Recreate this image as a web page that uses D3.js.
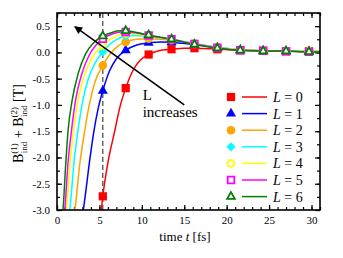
<!DOCTYPE html>
<meta charset="utf-8">
<html>
<head>
  <style>
    body { margin: 0; background: #fff; }
    svg { display: block; }
    text { font-family: "Liberation Serif", "DejaVu Serif", serif; }
    .axis path { display: none; }
    .axis line { stroke: #000; stroke-width: 1.2; }
    .axis text { font-size: 11px; fill: #000; }
  </style>
</head>
<body>
<svg width="343" height="258"></svg>
<script src="https://d3js.org/d3.v7.min.js"></script>
<script>
  // sample times of the markers (fs)
  const markerTimes = [5.4, 8.1, 10.8, 13.5, 16.2, 18.9, 21.6, 24.3, 27.0, 29.7];

  const labels = ["0", "1", "2", "3", "4", "5", "6"];
  const colors = ["#ff0000", "#0000ff", "#ffa500", "#00ffff", "#ffff00", "#ff00ff", "#008000"];

  // marker values per L
  const markersL0 = [-2.74, -0.68, -0.04, 0.06, 0.08, 0.06, 0.04, 0.03, 0.02, 0.02];
  const markersL1 = [-0.73, 0.04, 0.18, 0.19, 0.15, 0.09, 0.05, 0.03, 0.02, 0.02];
  const markersL2 = [-0.25, 0.20, 0.26, 0.23, 0.17, 0.10, 0.05, 0.03, 0.02, 0.02];
  const markersL3 = [0.01, 0.31, 0.30, 0.25, 0.17, 0.10, 0.05, 0.03, 0.02, 0.02];
  const markersL4 = [0.13, 0.36, 0.31, 0.25, 0.16, 0.09, 0.05, 0.03, 0.02, 0.02];
  const markersL5 = [0.26, 0.39, 0.32, 0.25, 0.16, 0.09, 0.04, 0.03, 0.02, 0.01];
  const markersL6 = [0.31, 0.41, 0.33, 0.25, 0.15, 0.08, 0.04, 0.025, 0.025, 0.01];

  // curves [t, value]
  const lineL0 = [[5.15,-3.1],[5.4,-2.74],[6.0,-2.1],[6.8,-1.5],[7.4,-1.05],[8.1,-0.68],[9.0,-0.33],[9.8,-0.15],[10.8,-0.04],[12.0,0.03],[13.5,0.06],[15,0.08],[16.2,0.08],[18.9,0.06],[21.6,0.04],[24.3,0.03],[27,0.02],[29.7,0.02],[31,0.02]];
  const lineL1 = [[3.0,-3.1],[3.1,-3.0],[3.9,-2.0],[4.35,-1.5],[4.85,-1.07],[5.4,-0.73],[6.2,-0.35],[7.0,-0.12],[8.1,0.04],[9.4,0.14],[10.8,0.18],[12.2,0.2],[13.5,0.19],[16.2,0.15],[18.9,0.09],[21.6,0.05],[24.3,0.03],[27,0.02],[29.7,0.02],[31,0.02]];
  const lineL2 = [[2.0,-3.1],[2.1,-3.0],[2.7,-2.1],[3.26,-1.5],[3.8,-1.0],[4.5,-0.55],[5.4,-0.25],[6.3,-0.02],[7.2,0.12],[8.1,0.2],[9.4,0.25],[10.8,0.26],[12.2,0.25],[13.5,0.23],[16.2,0.17],[18.9,0.1],[21.6,0.05],[24.3,0.03],[27,0.02],[29.7,0.02],[31,0.02]];
  const lineL3 = [[1.4,-3.1],[1.5,-3.0],[2.0,-2.1],[2.46,-1.5],[3.0,-0.95],[3.7,-0.5],[4.5,-0.2],[5.4,0.01],[6.5,0.19],[7.3,0.27],[8.1,0.31],[9.4,0.32],[10.8,0.3],[13.5,0.25],[16.2,0.17],[18.9,0.1],[21.6,0.05],[24.3,0.03],[27,0.02],[29.7,0.02],[31,0.02]];
  const lineL4 = [[1.0,-3.1],[1.1,-3.0],[1.55,-2.1],[1.95,-1.5],[2.5,-0.9],[3.2,-0.45],[4.2,-0.08],[5.4,0.13],[6.5,0.27],[7.5,0.34],[8.1,0.36],[9.4,0.35],[10.8,0.31],[13.5,0.25],[16.2,0.16],[18.9,0.09],[21.6,0.05],[24.3,0.03],[27,0.02],[29.7,0.02],[31,0.02]];
  const lineL5 = [[0.8,-3.1],[0.9,-3.0],[1.3,-2.1],[1.7,-1.5],[2.2,-0.9],[2.9,-0.42],[3.8,-0.05],[4.6,0.14],[5.4,0.26],[6.5,0.35],[7.5,0.39],[8.1,0.39],[9.4,0.37],[10.8,0.32],[13.5,0.25],[16.2,0.16],[18.9,0.09],[21.6,0.04],[24.3,0.03],[27,0.02],[29.7,0.01],[31,0.01]];
  const lineL6 = [[0.6,-3.1],[0.7,-3.0],[1.0,-2.2],[1.3,-1.5],[1.8,-0.9],[2.5,-0.4],[3.4,-0.02],[4.3,0.18],[5.4,0.31],[6.5,0.38],[7.3,0.41],[8.1,0.41],[9.4,0.38],[10.8,0.33],[13.5,0.25],[16.2,0.15],[18.9,0.08],[21.6,0.04],[24.3,0.025],[27,0.025],[29.7,0.01],[31,0.01]];

  const markerSets = [markersL0, markersL1, markersL2, markersL3, markersL4, markersL5, markersL6];
  const lineSets = [lineL0, lineL1, lineL2, lineL3, lineL4, lineL5, lineL6];
  const symbols = [d3.symbolSquare, d3.symbolTriangle, d3.symbolCircle, d3.symbolSquare, d3.symbolCircle, d3.symbolSquare, d3.symbolTriangle];
  const symSizes = [68, 44, 58, 42, 36, 44, 26];
  const symRotate = [0, 0, 0, 45, 0, 0, 0];
  const openMarker = [false, false, false, false, true, true, true];

  const dashTime = 5.4;
  const arrowFrom = [15.0, -1.0], arrowTo = [2.1, 0.49];

  const svg = d3.select("svg");
  const mLeft = 57, mRight = 320, mTop = 13, mBottom = 210;
  const x = d3.scaleLinear().domain([0, 31]).range([mLeft, mRight]);
  const y = d3.scaleLinear().domain([-3, 0.75]).range([mBottom, mTop]);

  svg.append("clipPath").attr("id", "clip")
    .append("rect").attr("x", mLeft).attr("y", mTop)
    .attr("width", mRight - mLeft).attr("height", mBottom - mTop);

  // axes: major + minor ticks inward on all four sides
  const fmt = d => d3.format(".1f")(d).replace("−", "-");
  const xMajor = d3.range(0, 31, 5), xMinor = d3.range(0, 32, 1);
  const yMajor = d3.range(-3, 0.76, 0.5), yMinor = d3.range(-3, 0.76, 0.25);

  svg.append("g").attr("class", "axis").attr("transform", `translate(0,${mBottom})`)
    .call(d3.axisBottom(x).tickValues(xMinor).tickSize(-3).tickFormat(""));
  svg.append("g").attr("class", "axis").attr("transform", `translate(0,${mBottom})`)
    .call(d3.axisBottom(x).tickValues(xMajor).tickSize(-5).tickPadding(6).tickFormat(d3.format("d")));
  svg.append("g").attr("class", "axis").attr("transform", `translate(0,${mTop})`)
    .call(d3.axisTop(x).tickValues(xMinor).tickSize(-3).tickFormat(""));
  svg.append("g").attr("class", "axis").attr("transform", `translate(0,${mTop})`)
    .call(d3.axisTop(x).tickValues(xMajor).tickSize(-5).tickFormat(""));

  svg.append("g").attr("class", "axis").attr("transform", `translate(${mLeft},0)`)
    .call(d3.axisLeft(y).tickValues(yMinor).tickSize(-3).tickFormat(""));
  svg.append("g").attr("class", "axis").attr("transform", `translate(${mLeft},0)`)
    .call(d3.axisLeft(y).tickValues(yMajor).tickSize(-5).tickPadding(7).tickFormat(fmt));
  svg.append("g").attr("class", "axis").attr("transform", `translate(${mRight},0)`)
    .call(d3.axisRight(y).tickValues(yMinor).tickSize(-3).tickFormat(""));
  svg.append("g").attr("class", "axis").attr("transform", `translate(${mRight},0)`)
    .call(d3.axisRight(y).tickValues(yMajor).tickSize(-5).tickFormat(""));

  // dashed line
  svg.append("line")
    .attr("x1", x(dashTime)).attr("x2", x(dashTime))
    .attr("y1", mTop).attr("y2", mBottom)
    .attr("stroke", "#333").attr("stroke-width", 1.1)
    .attr("stroke-dasharray", "5,3");

  const plot = svg.append("g").attr("clip-path", "url(#clip)");
  const line = d3.line().x(d => x(d[0])).y(d => y(d[1])).curve(d3.curveMonotoneX);

  lineSets.forEach((pts, i) => {
    plot.append("path").attr("d", line(pts))
      .attr("fill", "none").attr("stroke", colors[i]).attr("stroke-width", 1.5);
  });

  function drawMarker(g, i, px, py) {
    g.append("path")
      .attr("d", d3.symbol().type(symbols[i]).size(symSizes[i])())
      .attr("transform", `translate(${px},${py}) rotate(${symRotate[i]})`)
      .attr("fill", openMarker[i] ? "#fff" : colors[i])
      .attr("stroke", colors[i])
      .attr("stroke-width", openMarker[i] ? 1.8 : 0);
  }

  markerSets.forEach((vals, i) => {
    vals.forEach((v, k) => drawMarker(plot, i, x(markerTimes[k]), y(v)));
  });

  // arrow annotation
  const defs = svg.append("defs");
  defs.append("marker").attr("id", "head")
    .attr("viewBox", "0 0 10 10").attr("refX", 9).attr("refY", 5)
    .attr("markerWidth", 10).attr("markerHeight", 8)
    .attr("markerUnits", "userSpaceOnUse").attr("orient", "auto")
    .append("path").attr("d", "M0,0L10,5L0,10z").attr("fill", "#000");

  svg.append("line")
    .attr("x1", x(arrowFrom[0])).attr("y1", y(arrowFrom[1]))
    .attr("x2", x(arrowTo[0])).attr("y2", y(arrowTo[1]))
    .attr("stroke", "#000").attr("stroke-width", 1.6)
    .attr("marker-end", "url(#head)");

  svg.append("text").attr("x", x(10.1)).attr("y", y(-0.9))
    .attr("font-size", 15).text("L");
  svg.append("text").attr("x", x(10.1)).attr("y", y(-1.23))
    .attr("font-size", 15).text("increases");

  // legend
  const legend = svg.append("g");
  labels.forEach((lab, i) => {
    const ly = 97 + i * 16.6;
    drawMarker(legend, i, 231, ly);
    legend.append("line").attr("x1", 242).attr("x2", 267)
      .attr("y1", ly).attr("y2", ly)
      .attr("stroke", colors[i]).attr("stroke-width", 1.5);
    const t = legend.append("text").attr("x", 273).attr("y", ly + 5).attr("font-size", 14);
    t.append("tspan").attr("font-style", "italic").text("L");
    t.append("tspan").text(" = " + lab);
  });

  // frame
  svg.append("rect").attr("x", mLeft).attr("y", mTop)
    .attr("width", mRight - mLeft).attr("height", mBottom - mTop)
    .attr("fill", "none").attr("stroke", "#000").attr("stroke-width", 1.6);

  // axis titles
  const xt = svg.append("text").attr("x", 185).attr("y", 241)
    .attr("text-anchor", "middle").attr("font-size", 13);
  xt.append("tspan").text("time ");
  xt.append("tspan").attr("font-style", "italic").text("t");
  xt.append("tspan").text("  [fs]");

  const yt = svg.append("text").attr("transform", "translate(23,163) rotate(-90)")
    .attr("font-size", 14);
  yt.append("tspan").text("B");
  yt.append("tspan").attr("font-size", 9).attr("dy", -6).text("(1)");
  yt.append("tspan").attr("font-size", 9).attr("dx", -10).attr("dy", 10).text("ind");
  yt.append("tspan").attr("dy", -4).text(" + B");
  yt.append("tspan").attr("font-size", 9).attr("dy", -6).text("(2)");
  yt.append("tspan").attr("font-size", 9).attr("dx", -10).attr("dy", 10).text("ind");
  yt.append("tspan").attr("dy", -4).text(" [T]");
</script>
</body>
</html>
